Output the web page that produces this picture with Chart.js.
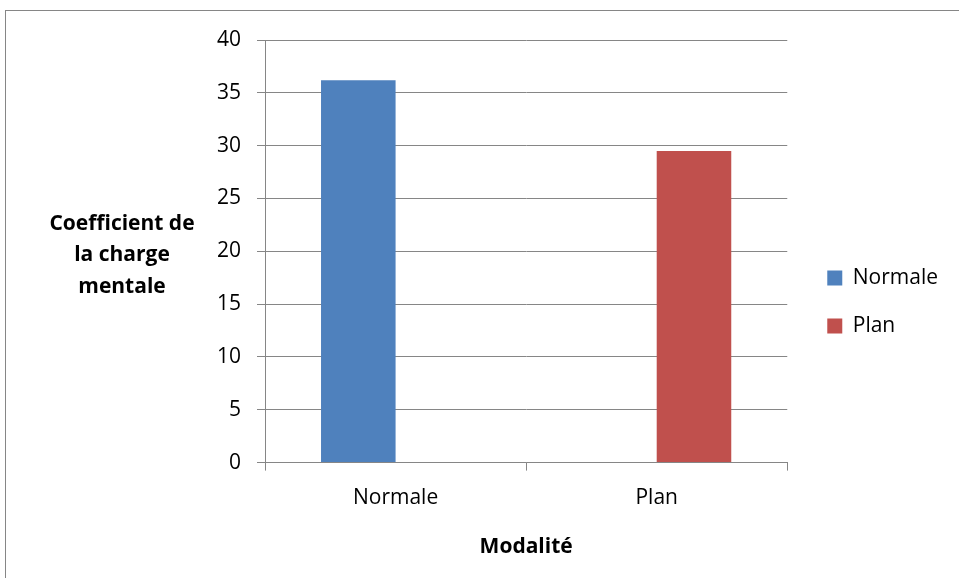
<!DOCTYPE html>
<html>
<head>
<meta charset="utf-8">
<script src="https://cdn.jsdelivr.net/npm/chart.js@4.4.0/dist/chart.umd.min.js"></script>
<style>
  html, body { margin: 0; padding: 0; background: #fff; }
  #wrap { position: relative; width: 959px; height: 578px; overflow: hidden; }
  #frame { position: absolute; left: 5px; top: 10px; width: 1000px; height: 600px; border: 1px solid #868686; box-sizing: border-box; }
  canvas { position: absolute; left: 0; top: 0; }
</style>
</head>
<body>
<div id="wrap">
  <div id="frame"></div>
  <canvas id="chart" width="959" height="578"></canvas>
</div>
<script>
var categories = ['Normale', 'Plan'];
var normaleValues = [36.2, null];
var planValues = [null, 29.5];
var yTitleLines = ['Coefficient de', 'la charge', 'mentale'];
var xTitle = 'Modalité';

var fontFamily = '"Open Sans", sans-serif';
var axisGray = '#868686';
var legendExtra = 13;	// extra space between plot and legend

// horizontal y-axis title, like the Excel one
var yTitlePlugin = {
	id: 'yTitle',
	afterDraw: function(chart) {
		var ctx = chart.ctx;
		var area = chart.chartArea;
		var mid = (area.top + area.bottom) / 2 + 4;
		var lh = 31.5;
		ctx.save();
		ctx.font = 'bold 21px ' + fontFamily;
		ctx.fillStyle = '#000';
		ctx.textAlign = 'center';
		ctx.textBaseline = 'middle';
		yTitleLines.forEach(function(line, i) {
			ctx.fillText(line, 122, mid + (i - (yTitleLines.length - 1) / 2) * lh);
		});
		ctx.restore();
	}
};

// push the legend a bit away from the plot area
var legendGapPlugin = {
	id: 'legendGap',
	beforeLayout: function(chart) {
		if (chart.legend && !chart.legend._gapHooked) {
			chart.legend.afterFit = function() { this.width += legendExtra; };
			chart.legend._gapHooked = true;
		}
	},
	afterLayout: function(chart) {
		if (chart.legend) {
			chart.legend.left += legendExtra;
			chart.legend.right += legendExtra;
		}
	}
};

Chart.defaults.font.family = fontFamily;
Chart.defaults.color = '#000';

var ctx = document.getElementById('chart');
var chart = new Chart(ctx, {
	type: 'bar',
	data: {
		labels: categories,
		datasets: [
			{ label: 'Normale', data: normaleValues, backgroundColor: '#4F81BD' },
			{ label: 'Plan', data: planValues, backgroundColor: '#C0504D' }
		]
	},
	options: {
		responsive: false,
		animation: false,
		layout: { padding: { left: 201, right: 24, top: 40, bottom: 14 } },
		datasets: { bar: { categoryPercentage: 0.571, barPercentage: 1 } },
		plugins: {
			tooltip: { enabled: false },
			legend: {
				position: 'right',
				labels: { boxWidth: 15, boxHeight: 15, padding: 27, font: { size: 21 } }
			}
		},
		scales: {
			x: {
				grid: { display: true, drawOnChartArea: false, offset: true, tickLength: 8, color: axisGray },
				border: { color: axisGray },
				ticks: { font: { size: 21 }, padding: 15 },
				title: { display: true, text: xTitle, font: { size: 21, weight: 'bold' }, padding: { top: 9 } }
			},
			y: {
				min: 0,
				max: 40,
				grid: { color: axisGray, tickLength: 8 },
				border: { color: axisGray },
				ticks: { stepSize: 5, font: { size: 21 }, padding: 16 }
			}
		}
	},
	plugins: [legendGapPlugin, yTitlePlugin]
});
</script>
</body>
</html>
